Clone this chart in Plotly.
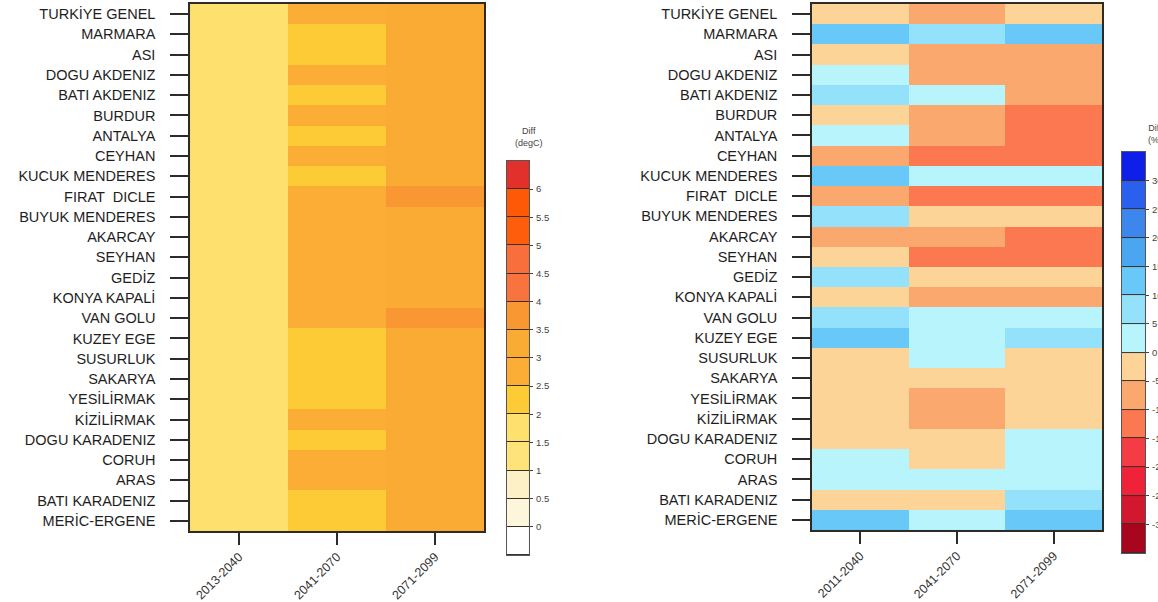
import plotly.graph_objects as go

regions = ["TURKİYE GENEL", "MARMARA", "ASI", "DOGU AKDENIZ", "BATI AKDENIZ", "BURDUR",
           "ANTALYA", "CEYHAN", "KUCUK MENDERES", "FIRAT  DICLE", "BUYUK MENDERES", "AKARCAY",
           "SEYHAN", "GEDİZ", "KONYA KAPALİ", "VAN GOLU", "KUZEY EGE", "SUSURLUK", "SAKARYA",
           "YESİLİRMAK", "KİZİLİRMAK", "DOGU KARADENIZ", "CORUH", "ARAS", "BATI KARADENIZ",
           "MERİC-ERGENE"]

temp_periods = ["2013-2040", "2041-2070", "2071-2099"]
precip_periods = ["2011-2040", "2041-2070", "2071-2099"]

# Temperature difference (degC)
temp_2013_2040 = [1.6, 1.6, 1.6, 1.6, 1.6, 1.6, 1.6, 1.6, 1.6, 1.6, 1.6, 1.6, 1.6,
                  1.6, 1.6, 1.6, 1.6, 1.6, 1.6, 1.6, 1.6, 1.6, 1.6, 1.6, 1.6, 1.6]
temp_2041_2070 = [2.8, 2.3, 2.3, 2.8, 2.3, 2.8, 2.3, 2.8, 2.3, 2.8, 2.8, 2.8, 2.8,
                  2.8, 2.8, 2.8, 2.3, 2.3, 2.3, 2.3, 2.8, 2.3, 2.8, 2.8, 2.3, 2.3]
temp_2071_2099 = [3.3, 3.3, 3.3, 3.3, 3.3, 3.3, 3.3, 3.3, 3.3, 3.7, 3.3, 3.3, 3.3,
                  3.3, 3.3, 3.7, 3.3, 3.3, 3.3, 3.3, 3.3, 3.3, 3.3, 3.3, 3.3, 3.3]

# Precipitation difference (%)
precip_2011_2040 = [-3, 13, -3, 3, 8, -3, 3, -8, 13, -8, 8, -8, -3,
                    8, -3, 8, 13, -3, -3, -3, -3, -3, 3, 3, -3, 13]
precip_2041_2070 = [-8, 8, -8, -8, 3, -8, -8, -13, 3, -13, -3, -8, -13,
                    -3, -8, 3, 3, 3, -3, -8, -8, -3, -3, 3, -3, 3]
precip_2071_2099 = [-3, 13, -8, -8, -8, -13, -13, -13, 3, -13, -3, -13, -13,
                    -3, -8, 3, 8, -3, -3, -3, -3, 3, 3, 3, 8, 13]

temp_levels = ["0", "0.5", "1", "1.5", "2", "2.5", "3", "3.5", "4", "4.5", "5", "5.5", "6"]
precip_levels = ["-30", "-25", "-20", "-15", "-10", "-5", "0", "5", "10", "15", "20", "25", "30"]

temp_colors = ["#FFFFFF", "#FEF6DA", "#FEF0C6", "#FEE37A", "#FDE06E", "#FDCB36", "#FBAD36",
               "#FAAB34", "#F99733", "#F9733F", "#F96F3C", "#FE5E0C", "#FE5906", "#E2302A"]
precip_colors = ["#A8051F", "#D2182F", "#EF2239", "#F43C44", "#FB7850", "#FBA86E", "#FDD498",
                 "#B8F4FC", "#93E1FA", "#68C8F8", "#4BA6F2", "#3D86EE", "#2B60EE", "#0F1FEA"]


def stepped(colors):
    n = len(colors)
    scale = []
    for i, c in enumerate(colors):
        scale.append([i / n, c])
        scale.append([(i + 1) / n, c])
    return scale


temp_z = [list(r) for r in zip(temp_2013_2040, temp_2041_2070, temp_2071_2099)]
precip_z = [list(r) for r in zip(precip_2011_2040, precip_2041_2070, precip_2071_2099)]

t_vals = [float(v) for v in temp_levels]
t_step = t_vals[1] - t_vals[0]
t_centers = [t_vals[0] - t_step / 2] + [v + t_step / 2 for v in t_vals]
p_vals = [float(v) for v in precip_levels]
p_step = p_vals[1] - p_vals[0]
p_centers = [p_vals[0] - p_step / 2] + [v + p_step / 2 for v in p_vals]

t_min, t_max = t_vals[0] - t_step, t_vals[-1] + t_step
p_min, p_max = p_vals[0] - p_step, p_vals[-1] + p_step

fig = go.Figure()
fig.add_trace(go.Heatmap(z=temp_z, x=temp_periods, y=regions, colorscale=stepped(temp_colors),
                         zmin=t_min, zmax=t_max, showscale=False, xaxis="x", yaxis="y",
                         hoverinfo="skip"))
fig.add_trace(go.Heatmap(z=precip_z, x=precip_periods, y=regions, colorscale=stepped(precip_colors),
                         zmin=p_min, zmax=p_max, showscale=False, xaxis="x2", yaxis="y2",
                         hoverinfo="skip"))
fig.add_trace(go.Heatmap(z=[[c] for c in t_centers], x=[0], y=t_centers, colorscale=stepped(temp_colors),
                         zmin=t_min, zmax=t_max, showscale=False, ygap=1, xaxis="x3", yaxis="y3",
                         hoverinfo="skip"))
fig.add_trace(go.Heatmap(z=[[c] for c in p_centers], x=[0], y=p_centers, colorscale=stepped(precip_colors),
                         zmin=p_min, zmax=p_max, showscale=False, ygap=1, xaxis="x4", yaxis="y4",
                         hoverinfo="skip"))

FONT = "Liberation Sans, Arial, sans-serif"
line_col = "#2e2a26"

main_x = dict(type="category", tickangle=-45, ticks="outside", ticklen=12, tickwidth=1.5,
              tickcolor=line_col, showline=True, mirror=True, linewidth=1.5, linecolor=line_col,
              tickfont=dict(family=FONT, size=12.5, color="#333"), showgrid=False, zeroline=False,
              automargin=False)
main_y = dict(type="category", autorange="reversed", ticks="outside", ticklen=18, tickwidth=1.5,
              tickcolor=line_col, showline=True, mirror=True, linewidth=1.5, linecolor=line_col,
              tickfont=dict(family=FONT, size=14.5, color="#1e1e1e"), showgrid=False, zeroline=False,
              ticklabelstandoff=12, automargin=False)
cb_x = dict(range=[-0.5, 0.5], showticklabels=False, ticks="", showline=True, mirror=True,
            linewidth=1.2, linecolor="#555", showgrid=False, zeroline=False, automargin=False)


def cb_y(rng, vals, texts):
    return dict(range=rng, side="right", tickvals=vals, ticktext=texts, ticks="outside", ticklen=3,
                tickcolor="#444", showline=True, mirror=True, linewidth=1.2, linecolor="#555",
                tickfont=dict(family=FONT, size=9.5, color="#444"), showgrid=False, zeroline=False,
                ticklabelstandoff=1, automargin=False)


fig.update_layout(
    width=1158, height=602, margin=dict(l=0, r=0, t=0, b=0, autoexpand=False),
    paper_bgcolor="white", plot_bgcolor="#3a2f28",
    xaxis=dict(domain=[0.1641, 0.4180], anchor="y", **main_x),
    yaxis=dict(domain=[0.1179, 0.9934], anchor="x", **main_y),
    xaxis2=dict(domain=[0.7012, 0.9516], anchor="y2", **main_x),
    yaxis2=dict(domain=[0.1196, 0.9934], anchor="x2", **main_y),
    xaxis3=dict(domain=[0.4378, 0.4568], anchor="y3", **cb_x),
    yaxis3=dict(domain=[0.0781, 0.7326], anchor="x3", **cb_y([t_min, t_max], t_vals, temp_levels)),
    xaxis4=dict(domain=[0.9689, 0.9888], anchor="y4", **cb_x),
    yaxis4=dict(domain=[0.0814, 0.7475], anchor="x4", **cb_y([p_min, p_max], p_vals, precip_levels)),
    annotations=[
        dict(text="Diff<br>(degC)", xref="x3 domain", yref="y3 domain", x=1.0, y=1, xanchor="center",
             yanchor="bottom", yshift=11, showarrow=False, font=dict(family=FONT, size=9, color="#444")),
        dict(text="Diff<br>(%)", xref="x4 domain", yref="y4 domain", x=1.45, y=1, xanchor="center",
             yanchor="bottom", yshift=5, showarrow=False, font=dict(family=FONT, size=9, color="#444")),
    ],
    showlegend=False,
)

fig.write_html("out.html", config={"displayModeBar": False},
               post_script="document.body.style.margin='0';document.body.style.overflow='hidden';")
